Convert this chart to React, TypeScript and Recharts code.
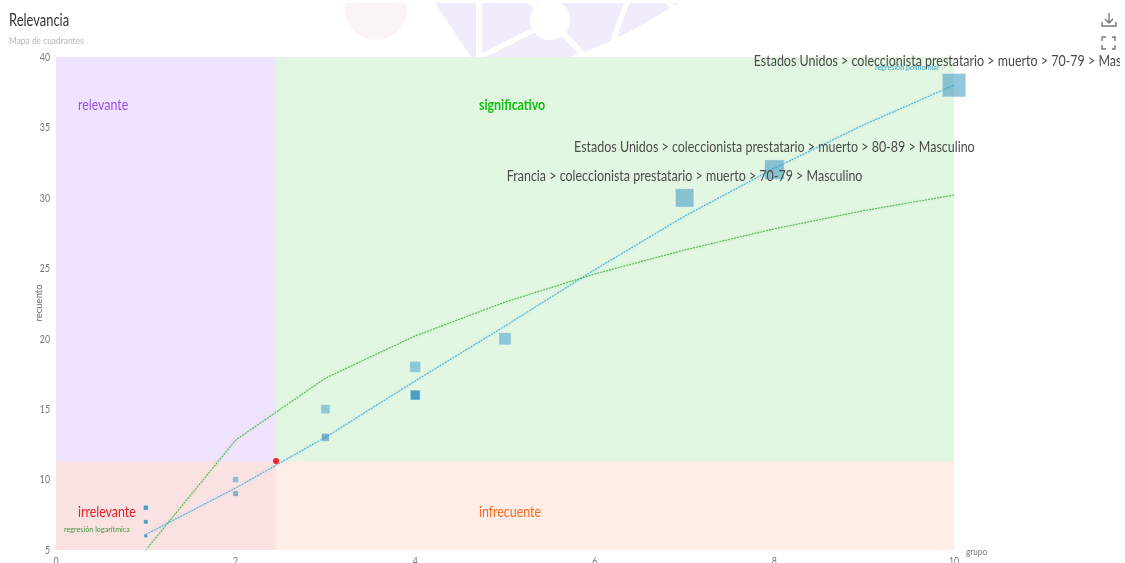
import React from 'react';
import { ComposedChart, XAxis, YAxis, Scatter, Line, ReferenceArea, LabelList } from 'recharts';

const FONT = 'Lato, sans-serif';
const lightPoints = [{ x: 2, y: 10 }, { x: 3, y: 15 }, { x: 4, y: 18 }, { x: 5, y: 20 }];
const midPoints = [{ x: 3, y: 13 }, { x: 2, y: 9 }];
const darkPoints = [{ x: 4, y: 16 }, { x: 1, y: 8 }, { x: 1, y: 7 }, { x: 1, y: 6 }];
const paleDot = [{ x: 1, y: 5 }];
const namedPoints = [
  { x: 10, y: 38, name: 'Estados Unidos > coleccionista prestatario > muerto > 70-79 > Masculino' },
  { x: 8, y: 32, name: 'Estados Unidos > coleccionista prestatario > muerto > 80-89 > Masculino' },
  { x: 7, y: 30, name: 'Francia > coleccionista prestatario > muerto > 70-79 > Masculino' },
];
const polyRegression = [
  { x: 1, y: 6.1 }, { x: 2, y: 9.4 }, { x: 3, y: 13 }, { x: 4, y: 17 }, { x: 5, y: 20.9 },
  { x: 6, y: 24.9 }, { x: 7, y: 28.7 }, { x: 8, y: 32.1 }, { x: 9, y: 35.2 }, { x: 10, y: 38 },
];
const logRegression = [
  { x: 1, y: 5 }, { x: 2, y: 12.8 }, { x: 3, y: 17.2 }, { x: 4, y: 20.2 }, { x: 5, y: 22.6 },
  { x: 6, y: 24.6 }, { x: 7, y: 26.3 }, { x: 8, y: 27.8 }, { x: 9, y: 29.1 }, { x: 10, y: 30.2 },
];
const centerPoint = [{ x: 2.45, y: 11.32 }];
const quadrantNames = [
  { x: 0.245, y: 36.6, name: 'relevante', color: '#9a4df0', weight: 400 },
  { x: 4.71, y: 36.6, name: 'significativo', color: '#12bf12', weight: 700 },
  { x: 0.245, y: 7.7, name: 'irrelevante', color: '#e8202a', weight: 400 },
  { x: 4.71, y: 7.7, name: 'infrecuente', color: '#fb6a1e', weight: 400 },
];
const regressionNames = [
  { x: 9.12, y: 39.3, name: 'regresión polinomial', color: '#3aa0c8', weight: 400 },
  { x: 0.09, y: 6.5, name: 'regresión logarítmica', color: '#3f9a3f', weight: 400 },
];
const xTicks = [0, 2, 4, 6, 8, 10];
const yTicks = [5, 10, 15, 20, 25, 30, 35, 40];

const squeezed = (x: number, y: number, text: any, size: number, fill: string, anchor: string, sx = 0.8, weight = 400) => (
  <text transform={`translate(${x},${y}) scale(${sx},1)`} dy="0.35em" fontSize={size} fontWeight={weight} fontFamily={FONT} fill={fill} textAnchor={anchor}>{text}</text>
);
const square = (fill: string, opacity: number) => (p: any) => {
  const s = p.payload.y * 0.62;
  return <rect x={p.cx - s / 2} y={p.cy - s / 2} width={s} height={s} fill={fill} fillOpacity={opacity} stroke="#fff" strokeOpacity={0.45} strokeWidth={1} />;
};
const words = (size: number, sx: number) => (p: any) => squeezed(p.cx, p.cy, p.payload.name, size, p.payload.color, 'start', sx, p.payload.weight);
const topLabel = (p: any) => {
  const point = namedPoints.find((d) => d.name === p.value);
  const gap = point ? point.y * 0.31 + 8.3 : 19;
  return squeezed(p.x + p.width / 2, p.y - gap, p.value, 15.5, '#4a4a4a', 'middle', 0.805);
};
const xTick = (p: any) => squeezed(p.x, 561, p.payload.value, 11, '#777', 'middle');
const yTick = (p: any) => squeezed(50, p.y, p.payload.value, 11, '#777', 'end');
const glow = (c: string) => ({ filter: `drop-shadow(0 0 1.5px ${c})` });

export default function App() {
  return (
    <div style={{ position: 'absolute', left: 0, top: 0, width: 1125, height: 563, overflow: 'hidden', background: '#fff', fontFamily: FONT }}>
      <svg width={1125} height={60} style={{ position: 'absolute', left: 0, top: 0 }}>
        <defs><clipPath id="wm"><rect x={0} y={3} width={1125} height={57} /></clipPath></defs>
        <g clipPath="url(#wm)">
          <circle cx={376} cy={9} r={31} fill="#fbf4f7" />
          <path d="M435 3 L473 60 L560 60 L582 53 Q 630 35 678 3 Z" fill="#f0ecfc" />
          <g stroke="#fff" fill="none">
            <path d="M479 0 V60" strokeWidth={6} />
            <path d="M480 57 L536 29" strokeWidth={5} />
            <path d="M562 32 L586 58" strokeWidth={6} />
            <path d="M528 0 L542 12" strokeWidth={5} />
            <path d="M628 0 L613 40" strokeWidth={5} />
            <path d="M666 0 L674 8" strokeWidth={5} />
          </g>
          <circle cx={550} cy={20} r={20} fill="#fff" />
        </g>
      </svg>
      <div style={{ position: 'absolute', left: 9, top: 9, fontSize: 17, color: '#333', transform: 'scaleX(0.76)', transformOrigin: 'left', whiteSpace: 'nowrap' }}>Relevancia</div>
      <div style={{ position: 'absolute', left: 9, top: 34, fontSize: 10, color: '#b5b5b5', transform: 'scaleX(0.84)', transformOrigin: 'left', whiteSpace: 'nowrap' }}>Mapa de cuadrantes</div>
      <svg width={20} height={40} viewBox="0 0 20 40" style={{ position: 'absolute', left: 1099, top: 12 }} fill="none" stroke="#777" strokeWidth={1.4}>
        <path d="M10 1 V10 M6 7 L10 11 L14 7 M3 10 V14 H17 V10" />
        <path d="M3 29 V25 H7 M13 25 H16 V29 M16 33 V37 H13 M7 37 H3 V33" />
      </svg>
      <div style={{ position: 'absolute', left: 0, top: 0, opacity: 0.999 }}>
        <ComposedChart width={1120} height={563} margin={{ top: 57, right: 166, bottom: 0, left: 0 }}>
          <XAxis type="number" dataKey="x" domain={[0, 10]} ticks={xTicks} axisLine={false} tickLine={false} height={13} tick={xTick} interval={0}
            label={(p: any) => squeezed(966, 551, 'grupo', 10, '#777', 'start', 0.82)} />
          <YAxis type="number" dataKey="y" domain={[5, 40]} ticks={yTicks} axisLine={false} tickLine={false} width={56} tick={yTick} interval={0}
            label={{ value: 'recuento', angle: -90, position: 'insideLeft', dx: 34, dy: 18, fontSize: 9.5, fill: '#666', fontFamily: FONT }} />
          <ReferenceArea x1={0} x2={2.45} y1={11.32} y2={40} fill="#f0e3fd" fillOpacity={1} stroke="none" />
          <ReferenceArea x1={2.45} x2={10} y1={11.32} y2={40} fill="#e2f7e2" fillOpacity={1} stroke="none" />
          <ReferenceArea x1={0} x2={2.45} y1={5} y2={11.32} fill="#fae2e2" fillOpacity={1} stroke="none" />
          <ReferenceArea x1={2.45} x2={10} y1={5} y2={11.32} fill="#ffeee7" fillOpacity={1} stroke="none" />
          <Scatter data={lightPoints} shape={square('#3a98c8', 0.5)} isAnimationActive={false} />
          <Scatter data={midPoints} shape={square('#3a88b8', 0.6)} isAnimationActive={false} />
          <Scatter data={darkPoints} shape={square('#2e8fc0', 0.85)} isAnimationActive={false} />
          <Scatter data={paleDot} shape={square('#e6d8f5', 0.9)} isAnimationActive={false} />
          <Scatter data={namedPoints} shape={square('#3a98c0', 0.55)} isAnimationActive={false}>
            <LabelList dataKey="name" content={topLabel} />
          </Scatter>
          <Line data={polyRegression} dataKey="y" type="linear" dot={false} stroke="#35a3d4" strokeWidth={1.1} strokeOpacity={0.85} strokeDasharray="2 1" style={glow('#9fd4ea')} isAnimationActive={false} />
          <Line data={logRegression} dataKey="y" type="linear" dot={false} stroke="#3fae3f" strokeWidth={1.1} strokeOpacity={0.85} strokeDasharray="2 1" style={glow('#a8e0a8')} isAnimationActive={false} />
          <Scatter data={centerPoint} fill="#f5222d" shape={(p: any) => <circle cx={p.cx} cy={p.cy} r={3} fill="#f5222d" />} isAnimationActive={false} />
          <Scatter data={quadrantNames} shape={words(15.5, 0.8)} isAnimationActive={false} />
          <Scatter data={regressionNames} shape={words(8, 0.9)} isAnimationActive={false} />
        </ComposedChart>
      </div>
    </div>
  );
}
